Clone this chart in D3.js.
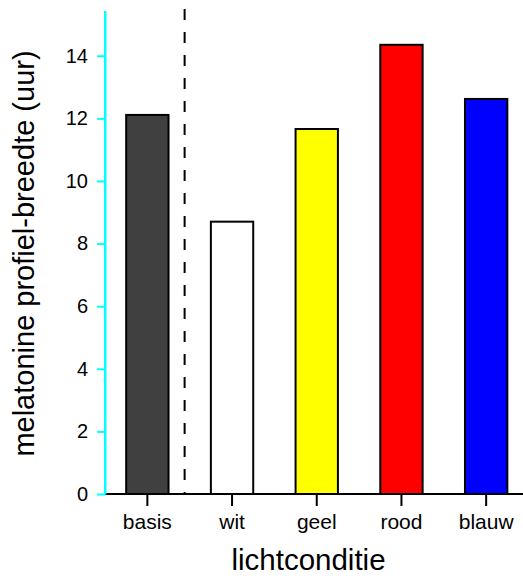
<!DOCTYPE html>
<html><head><meta charset="utf-8">
<script src="https://cdn.jsdelivr.net/npm/d3@7"></script>
<style>body{margin:0;background:#fff}svg{display:block}text{font-family:"Liberation Sans",Arial,sans-serif;fill:#000}</style>
</head><body>
<script>
const categories = ["basis", "wit", "geel", "rood", "blauw"];
const values = [12.11, 8.70, 11.66, 14.35, 12.62];
const colors = ["#404040", "#ffffff", "#ffff00", "#ff0000", "#0000ff"];
const yTicks = [0, 2, 4, 6, 8, 10, 12, 14];
const yTitle = "melatonine profiel-breedte (uur)";
const xTitle = "lichtconditie";
const dividerIndex = 0.44; // between basis (0) and wit (1)

const W = 523, H = 578;
const svg = d3.select("body").append("svg").attr("width", W).attr("height", H);

const x = d3.scaleBand().domain(categories).range([105, 528.5]).paddingInner(0.5).paddingOuter(0.25);
const y = d3.scaleLinear().domain([0, 15.43]).range([494, 11]);
const xi = d3.scaleLinear().domain([0, 1]).range([x(categories[0]) + x.bandwidth()/2, x(categories[1]) + x.bandwidth()/2]);

// bars
svg.selectAll("rect.bar").data(categories).join("rect")
  .attr("class", "bar")
  .attr("x", d => x(d))
  .attr("y", (d, i) => y(values[i]))
  .attr("width", x.bandwidth())
  .attr("height", (d, i) => y(0) - y(values[i]))
  .attr("fill", (d, i) => colors[i])
  .attr("stroke", "#000").attr("stroke-width", 2);

// divider
svg.append("line")
  .attr("x1", xi(dividerIndex)).attr("x2", xi(dividerIndex))
  .attr("y1", y.range()[1] - 2).attr("y2", y(0))
  .attr("stroke", "#000").attr("stroke-width", 2)
  .attr("stroke-dasharray", "11,12");

// x axis
const gx = svg.append("g").attr("transform", `translate(0,${y(0)})`)
  .call(d3.axisBottom(x).tickSizeInner(12).tickSizeOuter(0).tickPadding(8));
gx.select(".domain").attr("stroke", "#000").attr("stroke-width", 2).attr("d", `M105,0H${W}`);
gx.selectAll(".tick line").attr("stroke", "#000").attr("stroke-width", 2);
gx.selectAll(".tick text").attr("font-size", 21).attr("font-family", "Liberation Sans, Arial, sans-serif").attr("fill", "#000");

// y axis
const gy = svg.append("g").attr("transform", "translate(105,0)")
  .call(d3.axisLeft(y).tickValues(yTicks).tickSizeInner(8).tickSizeOuter(0).tickPadding(9));
gy.select(".domain").attr("stroke", "#00ffff").attr("stroke-width", 2);
gy.selectAll(".tick line").attr("stroke", "#00ffff").attr("stroke-width", 2);
gy.selectAll(".tick text").attr("font-size", 20).attr("font-family", "Liberation Sans, Arial, sans-serif").attr("fill", "#000");
svg.append("line").attr("x1",105).attr("x2",105).attr("y1",y(0)).attr("y2",y.range()[1]).attr("stroke","#00ffff").attr("stroke-width",2);

// titles
svg.append("text").attr("x", 308.5).attr("y", 570).attr("text-anchor", "middle")
  .attr("font-size", 29.5).text(xTitle);
svg.append("text").attr("transform", "translate(34,253.5) rotate(-90)").attr("text-anchor", "middle")
  .attr("font-size", 29).text(yTitle);
</script>
</body></html>
